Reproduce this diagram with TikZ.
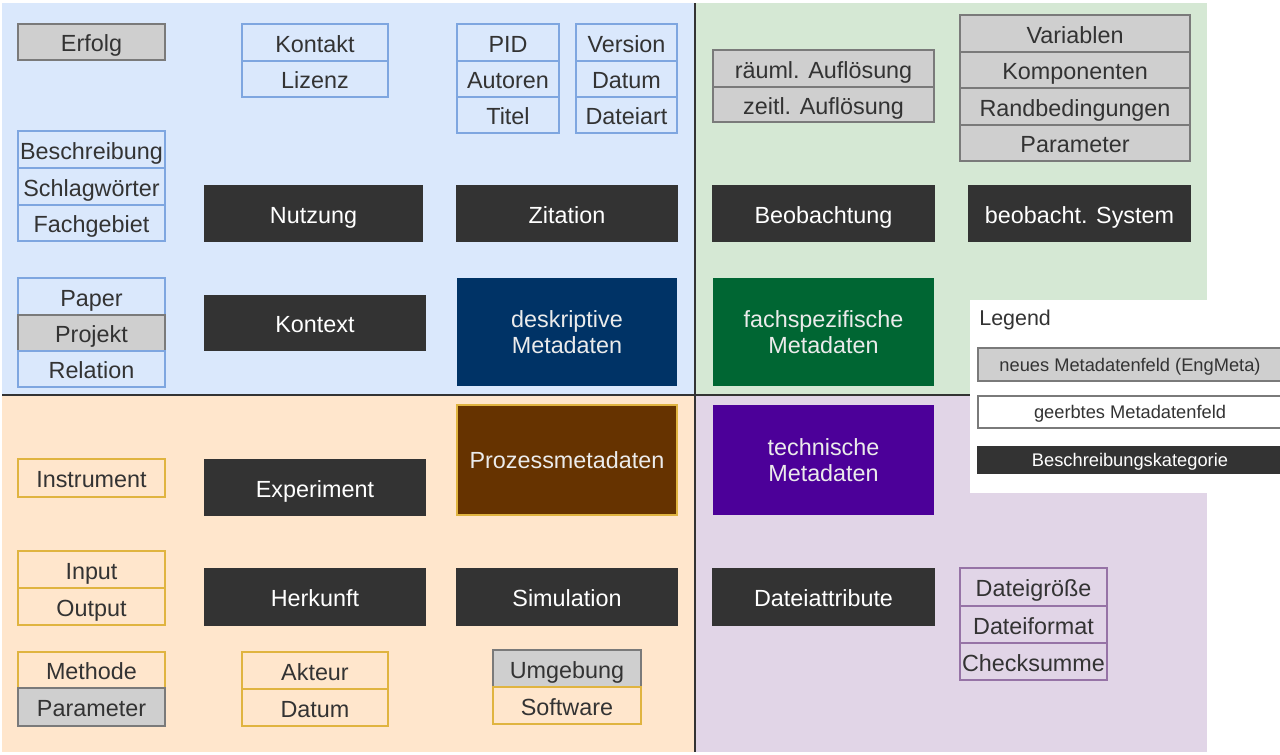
\documentclass[tikz,border=0pt]{standalone}
\usepackage{fontspec}
\setmainfont{Liberation Sans}
\definecolor{bgblue}{HTML}{DAE8FC}
\definecolor{bggreen}{HTML}{D5E8D4}
\definecolor{bgpeach}{HTML}{FFE6CC}
\definecolor{bgpurple}{HTML}{E1D5E7}
\definecolor{bdblue}{HTML}{7EA6E0}
\definecolor{bdorange}{HTML}{E0B440}
\definecolor{bdpurple}{HTML}{9673A6}
\definecolor{newfill}{HTML}{CFCFCF}
\definecolor{newdraw}{HTML}{7A7A7A}
\definecolor{darkbox}{HTML}{333333}
\definecolor{txt}{HTML}{333333}
\definecolor{navy}{HTML}{003366}
\definecolor{dgreen}{HTML}{006633}
\definecolor{brown}{HTML}{663300}
\definecolor{violet}{HTML}{4C0099}
\newcommand{\bx}[7]{\node[#2, minimum width={(#5-#3)*0.02cm}, minimum height={(#6-#4)*0.02cm}] (#1) at ({(#3+#5)/2},{(#4+#6)/2}) {#7};}
\begin{document}
\begin{tikzpicture}[x=0.02cm,y=-0.02cm,
  base/.style={rectangle, inner sep=0pt, outer sep=0pt, line width=0.6pt, text=txt, font=\fontsize{13.3}{15}\selectfont, text height=11.5pt, text depth=0.5pt},
  inblue/.style={base, draw=bdblue},
  inorange/.style={base, draw=bdorange},
  inpurple/.style={base, draw=bdpurple},
  newfield/.style={base, draw=newdraw, fill=newfill},
  category/.style={base, draw=darkbox, fill=darkbox, text=white},
  mainbox/.style={base, text=white!92!black, align=center, text height={}, text depth={}},
  legbox/.style={base, font=\fontsize{10.4}{12}\selectfont, text height=8pt, text depth=0.5pt},
  divider/.style={draw=darkbox, line width=1.2pt}
]
\useasboundingbox (0,0) rectangle (1280,754);
% backgrounds
\fill[bgblue] (2,3) rectangle (695,395);
\fill[bggreen] (695,3) rectangle (1207,395);
\fill[bgpeach] (2,395) rectangle (695,752);
\fill[bgpurple] (695,395) rectangle (1207,752);
\coordinate (hl) at (2,395);
\coordinate (hr) at (970,395);
\coordinate (vt) at (695,3);
\coordinate (vb) at (695,752);
\draw[divider] (hl) -- (hr);
\draw[divider] (vt) -- (vb);
% legend area
\fill[white] (970,300) rectangle (1280,493);
\node[anchor=west, text=txt, font=\fontsize{12.2}{14}\selectfont, inner sep=0pt] (legend) at (979,320) {Legend};
\bx{lnew}{legbox, draw=newdraw, fill=newfill}{978}{348}{1282}{381}{neues Metadatenfeld (EngMeta)}
\bx{linh}{legbox, draw=newdraw, fill=white}{978}{396}{1282}{428}{geerbtes Metadatenfeld}
\bx{lcat}{legbox, draw=darkbox, fill=darkbox, text=white}{978}{447}{1282}{473}{Beschreibungskategorie}
% top-left (deskriptiv)
\bx{erfolg}{newfield}{18}{24}{165}{60}{Erfolg}
\bx{kontakt}{inblue}{242}{24}{388}{61}{Kontakt}
\bx{lizenz}{inblue}{242}{61}{388}{97}{Lizenz}
\bx{beschr}{inblue}{18}{131}{165}{168}{Beschreibung}
\bx{schlag}{inblue}{18}{168}{165}{205}{Schlagwörter}
\bx{fach}{inblue}{18}{205}{165}{241}{Fachgebiet}
\bx{paper}{inblue}{18}{278}{165}{315}{Paper}
\bx{projekt}{newfield}{18}{315}{165}{351}{Projekt}
\bx{relation}{inblue}{18}{351}{165}{387}{Relation}
\bx{nutzung}{category}{205}{186}{422}{241}{Nutzung}
\bx{kontext}{category}{205}{296}{425}{350}{Kontext}
\bx{pid}{inblue}{457}{24}{559}{61}{PID}
\bx{autoren}{inblue}{457}{61}{559}{97}{Autoren}
\bx{titel}{inblue}{457}{97}{559}{133}{Titel}
\bx{version}{inblue}{576}{24}{677}{61}{Version}
\bx{datum1}{inblue}{576}{61}{677}{97}{Datum}
\bx{dateiart}{inblue}{576}{97}{677}{133}{Dateiart}
\bx{zitation}{category}{457}{186}{677}{241}{Zitation}
\bx{deskr}{mainbox, fill=navy}{457}{278}{677}{386}{deskriptive\\Metadaten}
% top-right (fachspezifisch)
\bx{raeuml}{newfield}{713}{50}{934}{87}{räuml. Auflösung}
\bx{zeitl}{newfield}{713}{87}{934}{122}{zeitl. Auflösung}
\bx{variablen}{newfield}{960}{15}{1190}{52}{Variablen}
\bx{komponenten}{newfield}{960}{52}{1190}{88}{Komponenten}
\bx{randbed}{newfield}{960}{88}{1190}{125}{Randbedingungen}
\bx{parameter1}{newfield}{960}{125}{1190}{161}{Parameter}
\bx{beobachtung}{category}{713}{186}{934}{241}{Beobachtung}
\bx{beobsys}{category}{969}{186}{1190}{241}{beobacht. System}
\bx{fachsp}{mainbox, fill=dgreen}{713}{278}{934}{386}{fachspezifische\\Metadaten}
% bottom-left (Prozess)
\bx{instrument}{inorange}{18}{459}{165}{497}{Instrument}
\bx{experiment}{category}{205}{460}{425}{515}{Experiment}
\bx{input}{inorange}{18}{551}{165}{588}{Input}
\bx{output}{inorange}{18}{588}{165}{625}{Output}
\bx{herkunft}{category}{205}{569}{425}{625}{Herkunft}
\bx{methode}{inorange}{18}{652}{165}{688}{Methode}
\bx{parameter2}{newfield}{18}{688}{165}{726}{Parameter}
\bx{akteur}{inorange}{242}{652}{388}{689}{Akteur}
\bx{datum2}{inorange}{242}{689}{388}{726}{Datum}
\bx{prozess}{mainbox, fill=brown, draw=bdorange}{457}{405}{677}{515}{Prozessmetadaten}
\bx{simulation}{category}{457}{569}{677}{625}{Simulation}
\bx{umgebung}{newfield}{493}{650}{641}{687}{Umgebung}
\bx{software}{inorange}{493}{687}{641}{724}{Software}
% bottom-right (technisch)
\bx{techn}{mainbox, fill=violet}{713}{405}{934}{515}{technische\\Metadaten}
\bx{dateiattr}{category}{713}{569}{934}{625}{Dateiattribute}
\bx{groesse}{inpurple}{960}{568}{1107}{606}{Dateigröße}
\bx{format}{inpurple}{960}{606}{1107}{643}{Dateiformat}
\bx{checksumme}{inpurple}{960}{643}{1107}{680}{Checksumme}
\end{tikzpicture}
\end{document}
